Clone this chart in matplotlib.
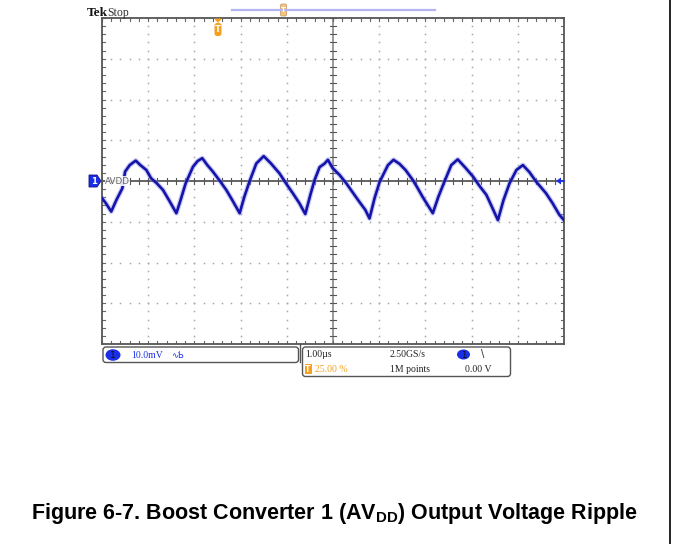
import numpy as np
import matplotlib
matplotlib.use("Agg")
import matplotlib.pyplot as plt
from matplotlib.patches import FancyBboxPatch, Polygon, Ellipse, Rectangle

plt.rcParams["mathtext.fontset"] = "custom"
plt.rcParams["mathtext.bf"] = "Liberation Sans:bold"
plt.rcParams["mathtext.rm"] = "Liberation Sans"

# Channel 1 (AVDD, AC coupled) ripple trace: time in microseconds, voltage in mV
time_us = [-2.50, -2.42, -2.30, -2.19, -2.06, -2.00, -1.90, -1.77, -1.67, -1.54,
           -1.44, -1.32, -1.18, -1.04, -0.89, -0.80, -0.69, -0.53, -0.43, -0.33,
           -0.22, -0.10, 0.04, 0.19, 0.32, 0.48, 0.58, 0.69, 0.84, 1.00,
           1.15, 1.34, 1.49, 1.63, 1.77, 1.90, 2.01, 2.10, 2.21, 2.32,
           2.39, 2.49, 2.64, 2.79, 2.92, 3.07, 3.20, 3.29, 3.40, 3.51,
           3.69, 3.81, 3.94, 4.07, 4.23, 4.33, 4.44, 4.55, 4.66, 4.78,
           4.91, 5.06, 5.20, 5.37, 5.53, 5.67, 5.82, 5.93, 6.07, 6.19,
           6.32, 6.47, 6.61, 6.75, 6.90, 7.11, 7.25, 7.40, 7.50]
ripple_mv = [-4.2, -5.4, -7.5, -4.7, -1.8, 2.3, 3.9, 5.0, 3.9, 2.7,
             0.7, -0.5, -2.2, -4.9, -7.9, -4.7, -0.6, 3.5, 4.9, 5.6,
             3.9, 2.3, 0.2, -2.2, -4.7, -7.9, -3.9, -0.2, 4.3, 6.1,
             4.4, 1.9, -0.7, -3.0, -5.4, -8.1, -3.4, 0.2, 3.4, 4.3,
             5.2, 3.2, 1.5, -0.6, -2.7, -5.1, -7.1, -9.2, -4.2, -0.2,
             3.9, 5.2, 4.2, 2.7, 0.2, -1.7, -3.9, -5.9, -7.9, -3.9,
             -0.2, 3.9, 5.3, 3.2, 1.1, -1.2, -3.4, -6.1, -9.6, -4.7,
             -0.6, 2.7, 3.9, 2.2, -0.2, -3.0, -5.4, -8.3, -9.6]

# Scope settings
volts_per_div = 10.0      # mV/div
time_per_div = 1.0        # us/div
trigger_pos = 0.25        # fraction of record before trigger
n_hdiv, n_vdiv = 10, 8

status_top = ["1.00\u00b5s", "2.50GS/s", "\\"]
status_bottom = ["25.00 %", "1M points", "0.00 V"]
ch1_scale = "10.0mV"
caption = "Figure 6-7. Boost Converter 1 (AV$_{\\mathbf{DD}}$) Output Voltage Ripple"

W, H = 673, 544
fig = plt.figure(figsize=(W / 100, H / 100), dpi=100)
fig.patch.set_facecolor("white")

# Graticule area in pixels
L, R, T, B = 102, 564, 18, 344
ax = fig.add_axes([L / W, 1 - B / H, (R - L) / W, (B - T) / H])
t0 = -trigger_pos * n_hdiv * time_per_div
t1 = t0 + n_hdiv * time_per_div
v0, v1 = -n_vdiv / 2 * volts_per_div, n_vdiv / 2 * volts_per_div
ax.set_xlim(t0, t1)
ax.set_ylim(v0, v1)
ax.set_xticks([])
ax.set_yticks([])
for s in ax.spines.values():
    s.set_color("#555555")
    s.set_linewidth(1.3)

dot_c = "#a8a8a8"
tmaj = t0 + np.arange(1, n_hdiv) * time_per_div
vmaj = v0 + np.arange(1, n_vdiv) * volts_per_div
tmin = np.arange(t0, t1 + 1e-9, time_per_div / 5)
vmin = np.arange(v0, v1 + 1e-9, volts_per_div / 5)
tc = (t0 + t1) / 2

# dotted major grid lines
for tm in tmaj:
    if abs(tm - tc) < 1e-9:
        continue
    ax.plot(np.full_like(vmin, tm), vmin, ls="none", marker="s", ms=1.1,
            mec="none", mfc=dot_c, zorder=1)
for vm in vmaj:
    if abs(vm) < 1e-9:
        continue
    ax.plot(tmin, np.full_like(tmin, vm), ls="none", marker="s", ms=1.1,
            mec="none", mfc=dot_c, zorder=1)

# centre cross-hair with minor ticks
ax.axhline(0, color="#3a3a3a", lw=1.1, zorder=1)
ax.axvline(tc, color="#9a9a9a", lw=1.4, zorder=1)
tick_t = 0.07 * time_per_div
tick_v = 0.07 * volts_per_div
for tm in tmin:
    ax.plot([tm, tm], [-tick_v, tick_v], color="#555555", lw=0.8, zorder=1)
    ax.plot([tm, tm], [v1, v1 - tick_v], color="#666666", lw=0.8, zorder=1)
    ax.plot([tm, tm], [v0, v0 + tick_v], color="#666666", lw=0.8, zorder=1)
for vm in vmin:
    ax.plot([tc - tick_t, tc + tick_t], [vm, vm], color="#555555", lw=0.8, zorder=1)
    ax.plot([t0, t0 + tick_t], [vm, vm], color="#666666", lw=0.8, zorder=1)
    ax.plot([t1, t1 - tick_t], [vm, vm], color="#666666", lw=0.8, zorder=1)

# the waveform
ax.plot(time_us, ripple_mv, color="#8a8ae6", lw=3.6, alpha=0.45, zorder=2,
        solid_joinstyle="round", clip_on=True)
ax.plot(time_us, ripple_mv, color="#1414aa", lw=1.9, zorder=3,
        solid_joinstyle="round", clip_on=True)

# overlay in pixel coordinates for the scope annotations
ov = fig.add_axes([0, 0, 1, 1], zorder=5)
ov.set_xlim(0, W)
ov.set_ylim(H, 0)
ov.axis("off")

blue = "#1a2ee8"
orange = "#f5a020"
serif = "Liberation Serif"

ov.text(87, 16, "Tek", fontsize=9.5, fontweight="bold", family=serif,
        color="#111111", va="baseline")
ov.text(107, 16, "Stop", fontsize=8.5, family=serif, color="#333333",
        va="baseline")

# record-view bar with trigger position
ov.plot([232, 435], [10, 10], color="#b4b4f4", lw=1.6)
ov.add_patch(FancyBboxPatch((280.5, 4), 6, 12, boxstyle="round,pad=0,rounding_size=1.5",
                            fc="#f7c27a", ec="#c9a070", lw=0.6))
ov.text(283.5, 10.5, "T", fontsize=5, color="white", ha="center", va="center",
        fontweight="bold")

# trigger position marker
ov.add_patch(Polygon([[214, 18.5], [222, 18.5], [218, 23]], closed=True, fc=orange,
                     ec="none"))
ov.add_patch(FancyBboxPatch((214.5, 23), 7, 13, boxstyle="round,pad=0,rounding_size=2.5",
                            fc=orange, ec="none"))
ov.text(218, 29.8, "T", fontsize=6, color="white", ha="center", va="center",
        fontweight="bold")

# channel 1 ground marker and label
ov.add_patch(Polygon([[89, 175], [97, 175], [101, 181], [97, 187], [89, 187]],
                     closed=True, fc=blue, ec="#101080", lw=0.6))
ov.text(93.5, 181.5, "1", fontsize=6, color="white", ha="center", va="center",
        fontweight="bold")
ov.text(105, 181, "AVDD", fontsize=6.3, family="DejaVu Sans", color="#666666",
        va="center", ha="left",
        bbox=dict(boxstyle="square,pad=0.05", fc="white", ec="none", alpha=0.85))

# trigger level arrow on the right
ov.add_patch(Polygon([[556, 181], [561, 177.5], [561, 184.5]], closed=True,
                     fc=blue, ec="none"))
ov.plot([560, 564], [181, 181], color=blue, lw=1.2)

# channel readout box
ov.add_patch(FancyBboxPatch((103, 347), 195.5, 15.5, boxstyle="round,pad=0,rounding_size=3",
                            fc="white", ec="#555555", lw=1.0))
ov.add_patch(Ellipse((113, 355), 15, 11.5, fc=blue, ec="none"))
ov.text(113, 355.5, "1", fontsize=6.5, color="#101010", ha="center", va="center")
ov.text(131, 355.5, ch1_scale, fontsize=7, family=serif, color=blue,
        va="center", ha="left")
ov.text(171, 355, "\u223f\u0184", fontsize=6, family="DejaVu Sans", color=blue,
        va="center", ha="left")

# timebase / trigger readout box
ov.add_patch(FancyBboxPatch((302.5, 347), 208, 29.5, boxstyle="round,pad=0,rounding_size=3",
                            fc="white", ec="#555555", lw=1.0))
ov.plot([299.5, 299.5], [344, 362], color="#555555", lw=1.0)
ov.text(305, 354.5, status_top[0], fontsize=7, family=serif, color="#222222",
        va="center", ha="left")
ov.text(390, 354.5, status_top[1], fontsize=7, family=serif, color="#222222",
        va="center", ha="left")
ov.add_patch(Ellipse((463.5, 354.5), 13, 10, fc=blue, ec="none"))
ov.text(463.5, 355, "1", fontsize=6, color="#101010", ha="center", va="center")
ov.text(481, 354, status_top[2], fontsize=7, family="DejaVu Sans", color="#222222",
        va="center", ha="left")
ov.add_patch(Rectangle((304.5, 364), 7, 10, fc=orange, ec="none"))
ov.text(308, 369.2, "T", fontsize=5.5, color="white", ha="center", va="center",
        fontweight="bold")
ov.text(315, 369.5, status_bottom[0], fontsize=7, family=serif, color=orange,
        va="center", ha="left")
ov.text(390, 369.5, status_bottom[1], fontsize=7, family=serif, color="#222222",
        va="center", ha="left")
ov.text(465, 369.5, status_bottom[2], fontsize=7, family=serif, color="#222222",
        va="center", ha="left")

# page frame line at the right
ov.plot([670, 670], [0, H], color="black", lw=1.2)

# caption
ov.text(334.5, 514, caption, fontsize=15.5, fontweight="bold",
        family="Liberation Sans", color="black", ha="center", va="center")

fig.savefig("out.png", dpi=100)
